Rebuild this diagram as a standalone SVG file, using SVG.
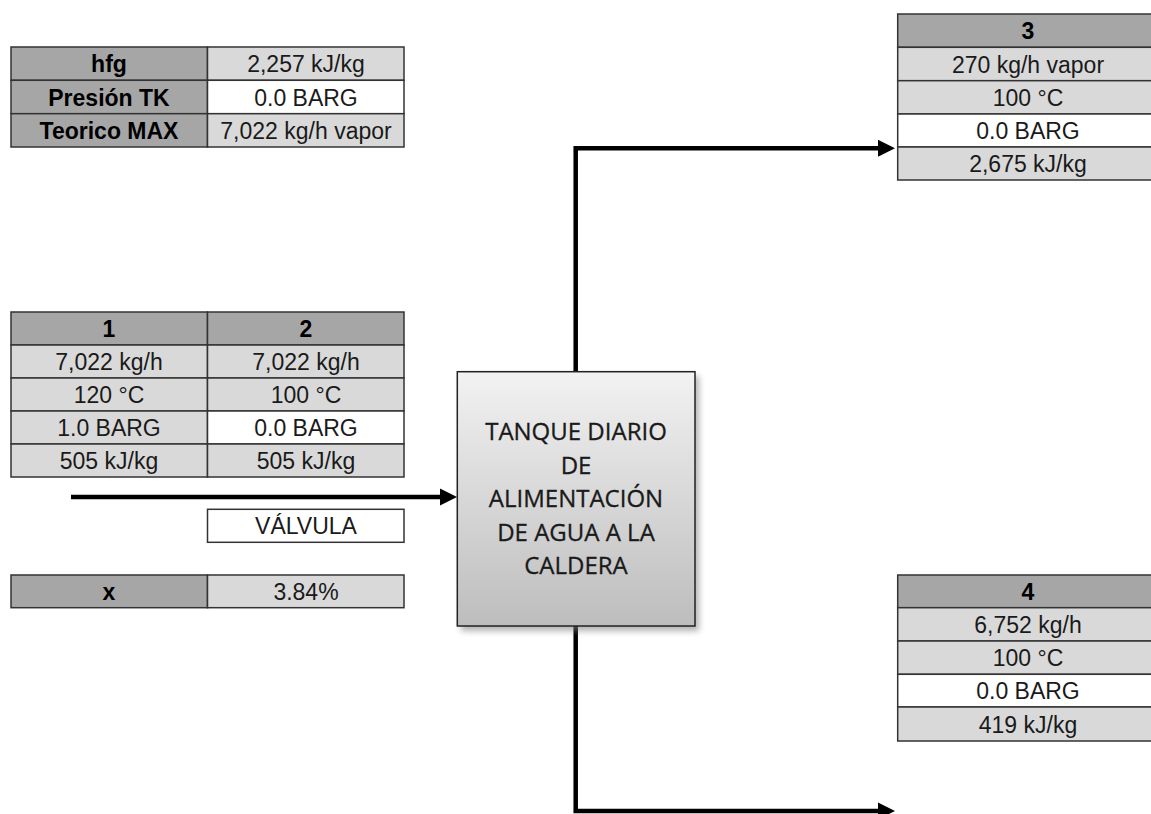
<svg xmlns="http://www.w3.org/2000/svg" width="1151" height="814" viewBox="0 0 1151 814">
<defs>
<marker id="ah" markerUnits="userSpaceOnUse" markerWidth="18" markerHeight="18" refX="2" refY="8.5" orient="auto" overflow="visible">
<path d="M0,0 L17,8.5 L0,17 z" fill="#000"/>
</marker>
<linearGradient id="tg" x1="0" y1="0" x2="0" y2="1">
<stop offset="0" stop-color="#f2f2f2"/>
<stop offset="1" stop-color="#bdbdbd"/>
</linearGradient>
<filter id="sh" x="-10%" y="-10%" width="130%" height="130%">
<feGaussianBlur stdDeviation="3"/>
</filter>
</defs>
<style>
.h{fill:#a6a6a6;stroke:#333;stroke-width:1.5}
.l{fill:#d9d9d9;stroke:#333;stroke-width:1.5}
.w{fill:#fff;stroke:#333;stroke-width:1.5}
text{font-family:"Liberation Sans",Arial,sans-serif;font-size:23px;fill:#1a1a1a;text-anchor:middle}
.b{font-weight:bold;fill:#000}
.c{font-family:"Open Sans","Noto Sans",sans-serif;font-size:24px;fill:#1a1a1a;stroke:#1a1a1a;stroke-width:0.3}
.ln{fill:none;stroke:#000;stroke-width:4.5}
</style>
<rect width="1151" height="814" fill="#fff"/>

<g id="connectors">
<path class="ln" d="M71,497 H442" marker-end="url(#ah)"/>
<path class="ln" d="M575.7,372 V148.3 H880" marker-end="url(#ah)"/>
<path class="ln" d="M575.7,626 V811 H880" marker-end="url(#ah)"/>
</g>

<g id="props-top">
<rect class="h" x="11" y="47" width="196.5" height="33.3"/>
<rect class="l" x="207.5" y="47" width="196.5" height="33.3"/>
<rect class="h" x="11" y="80.3" width="196.5" height="33.4"/>
<rect class="w" x="207.5" y="80.3" width="196.5" height="33.4"/>
<rect class="h" x="11" y="113.7" width="196.5" height="33.3"/>
<rect class="l" x="207.5" y="113.7" width="196.5" height="33.3"/>
<text class="b" x="109" y="72">hfg</text>
<text x="306" y="72">2,257 kJ/kg</text>
<text class="b" x="109" y="105.5">Presión TK</text>
<text x="306" y="105.5">0.0 BARG</text>
<text class="b" x="109" y="139">Teorico MAX</text>
<text x="306" y="139">7,022 kg/h vapor</text>
</g>

<g id="stream-1-2">
<rect class="h" x="11" y="312" width="196.5" height="33"/>
<rect class="h" x="207.5" y="312" width="196.5" height="33"/>
<rect class="l" x="11" y="345" width="196.5" height="33"/>
<rect class="l" x="207.5" y="345" width="196.5" height="33"/>
<rect class="l" x="11" y="378" width="196.5" height="33"/>
<rect class="l" x="207.5" y="378" width="196.5" height="33"/>
<rect class="l" x="11" y="411" width="196.5" height="33"/>
<rect class="w" x="207.5" y="411" width="196.5" height="33"/>
<rect class="l" x="11" y="444" width="196.5" height="33"/>
<rect class="l" x="207.5" y="444" width="196.5" height="33"/>
<text class="b" x="109" y="337">1</text>
<text class="b" x="306" y="337">2</text>
<text x="109" y="370">7,022 kg/h</text>
<text x="306" y="370">7,022 kg/h</text>
<text x="109" y="403">120 °C</text>
<text x="306" y="403">100 °C</text>
<text x="109" y="436">1.0 BARG</text>
<text x="306" y="436">0.0 BARG</text>
<text x="109" y="469">505 kJ/kg</text>
<text x="306" y="469">505 kJ/kg</text>
</g>

<g id="valvula">
<rect class="w" x="207.5" y="509.3" width="196.5" height="33"/>
<text x="306" y="534">VÁLVULA</text>
</g>

<g id="fraction-x">
<rect class="h" x="11" y="575" width="196.5" height="32.7"/>
<rect class="l" x="207.5" y="575" width="196.5" height="32.7"/>
<text class="b" x="109" y="600">x</text>
<text x="306" y="600">3.84%</text>
</g>

<g id="tank">
<rect x="461" y="376" width="238" height="255" fill="#7f7f7f" opacity="0.6" filter="url(#sh)"/>
<rect x="457.3" y="371.7" width="237.7" height="254.3" fill="url(#tg)" stroke="#222" stroke-width="1.5"/>
<text class="c" x="576" y="440">TANQUE DIARIO</text>
<text class="c" x="576" y="473.5">DE</text>
<text class="c" x="576" y="507">ALIMENTACIÓN</text>
<text class="c" x="576" y="540.5">DE AGUA A LA</text>
<text class="c" x="576" y="574">CALDERA</text>
</g>

<g id="stream-3">
<rect class="h" x="897.7" y="14" width="262" height="33.3"/>
<rect class="l" x="897.7" y="47.3" width="262" height="33.4"/>
<rect class="l" x="897.7" y="80.7" width="262" height="33.3"/>
<rect class="w" x="897.7" y="114" width="262" height="33"/>
<rect class="l" x="897.7" y="147" width="262" height="33"/>
<text class="b" x="1028" y="39">3</text>
<text x="1028" y="72.5">270 kg/h vapor</text>
<text x="1028" y="106">100 °C</text>
<text x="1028" y="139">0.0 BARG</text>
<text x="1028" y="172">2,675 kJ/kg</text>
</g>

<g id="stream-4">
<rect class="h" x="897.7" y="575" width="262" height="32.7"/>
<rect class="l" x="897.7" y="607.7" width="262" height="33.3"/>
<rect class="l" x="897.7" y="641" width="262" height="33.3"/>
<rect class="w" x="897.7" y="674.3" width="262" height="32.7"/>
<rect class="l" x="897.7" y="707" width="262" height="34"/>
<text class="b" x="1028" y="600">4</text>
<text x="1028" y="633">6,752 kg/h</text>
<text x="1028" y="666">100 °C</text>
<text x="1028" y="699">0.0 BARG</text>
<text x="1028" y="732.5">419 kJ/kg</text>
</g>
</svg>
